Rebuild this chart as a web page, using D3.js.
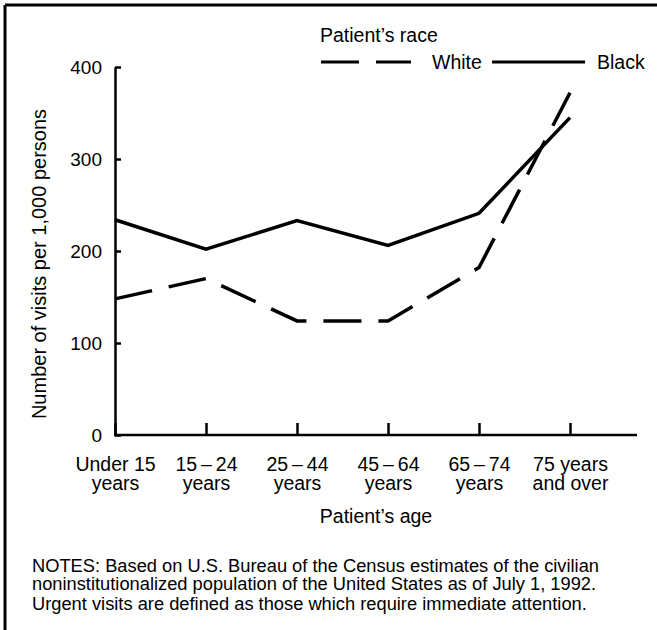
<!DOCTYPE html>
<html>
<head>
<meta charset="utf-8">
<script src="https://cdn.jsdelivr.net/npm/d3@7"></script>
<style>
  html, body { margin: 0; padding: 0; background: #fff; }
  svg { display: block; }
  text { font-family: "Liberation Sans", Arial, Helvetica, sans-serif; fill: #000; }
</style>
</head>
<body>
<svg id="chart" width="657" height="630"></svg>
<script>
// ---- data ----
const categories = ["Under 15|years", "15\u2009\u2013\u200924|years", "25\u2009\u2013\u200944|years", "45\u2009\u2013\u200964|years", "65\u2009\u2013\u200974|years", "75 years|and over"];
const whiteValues = [148, 170, 124, 124, 182, 372];
const blackValues = [234, 202, 233, 206, 241, 345];
const yTicks = [0, 100, 200, 300, 400];
const seriesNames = ["White", "Black"];
const legendTitle = "Patient\u2019s race";
const xTitle = "Patient\u2019s age";
const yTitle = "Number of visits per 1,000 persons";
const notes = [
  "NOTES: Based on U.S. Bureau of the Census estimates of the civilian",
  "noninstitutionalized population of the United States as of July 1, 1992.",
  "Urgent visits are defined as those which require immediate attention."
];

// ---- layout ----
const svg = d3.select("#chart");
const plot = { left: 115, right: 570, top: 67, bottom: 435, axisEnd: 637 };
const x = d3.scalePoint().domain(categories).range([plot.left, plot.right]).padding(0);
const y = d3.scaleLinear().domain([0, 400]).range([plot.bottom, plot.top]);
const FS = 19.5;

// frame (top and left edges)
svg.append("line").attr("x1", 5).attr("y1", 5).attr("x2", 657).attr("y2", 5)
  .attr("stroke", "#000").attr("stroke-width", 3);
svg.append("line").attr("x1", 5).attr("y1", 5).attr("x2", 5).attr("y2", 630)
  .attr("stroke", "#000").attr("stroke-width", 3);

// y axis
const yAxis = svg.append("g").attr("transform", `translate(${plot.left},0)`)
  .call(d3.axisLeft(y).tickValues(yTicks).tickSizeInner(-6).tickSizeOuter(0).tickPadding(12));
yAxis.select(".domain").attr("stroke-width", 2.5);
yAxis.selectAll(".tick line").attr("stroke-width", 2.5);
yAxis.selectAll(".tick text").attr("font-size", 19).attr("font-family", null).attr("x", -13);

// x axis
const xAxis = svg.append("g").attr("transform", `translate(0,${plot.bottom})`)
  .call(d3.axisBottom(x).tickSizeInner(-12).tickSizeOuter(0).tickFormat(""));
xAxis.select(".domain").remove();
xAxis.append("line").attr("x1", plot.left - 1).attr("x2", plot.axisEnd)
  .attr("y1", 0).attr("y2", 0).attr("stroke", "#000").attr("stroke-width", 2.5);
xAxis.selectAll(".tick line").attr("stroke-width", 2.5);
xAxis.selectAll(".tick").each(function(d) {
  const t = d3.select(this).append("text").attr("text-anchor", "middle").attr("font-size", FS);
  d.split("|").forEach((s, i) => {
    t.append("tspan").attr("x", 0).attr("y", i === 0 ? 36 : 55).text(s);
  });
});

// titles
svg.append("text").attr("x", (plot.left + plot.axisEnd) / 2).attr("y", 523)
  .attr("text-anchor", "middle").attr("font-size", FS).text(xTitle);
svg.append("text").attr("transform", `translate(46,264) rotate(-90)`)
  .attr("text-anchor", "middle").attr("font-size", 20).text(yTitle);

// lines
const line = d3.line().x((d, i) => x(categories[i])).y(d => y(d));
svg.append("path").datum(whiteValues).attr("d", line).attr("fill", "none")
  .attr("stroke", "#000").attr("stroke-width", 3.5).attr("stroke-dasharray", "38,17");
svg.append("path").datum(blackValues).attr("d", line).attr("fill", "none")
  .attr("stroke", "#000").attr("stroke-width", 3.5).attr("stroke-linejoin", "miter");

// legend
svg.append("text").attr("x", 320).attr("y", 42).attr("font-size", FS).text(legendTitle);
const lg = svg.append("g");
lg.append("line").attr("x1", 321).attr("x2", 411).attr("y1", 62).attr("y2", 62)
  .attr("stroke", "#000").attr("stroke-width", 3).attr("stroke-dasharray", "38,17");
lg.append("text").attr("x", 432).attr("y", 69).attr("font-size", FS).text(seriesNames[0]);
lg.append("line").attr("x1", 492).attr("x2", 585).attr("y1", 62).attr("y2", 62)
  .attr("stroke", "#000").attr("stroke-width", 3);
lg.append("text").attr("x", 597).attr("y", 69).attr("font-size", FS).text(seriesNames[1]);

// notes
const nb = [572, 590, 610];
notes.forEach((s, i) => {
  svg.append("text").attr("x", 32).attr("y", nb[i]).attr("font-size", 18.3).text(s);
});
</script>
</body>
</html>
